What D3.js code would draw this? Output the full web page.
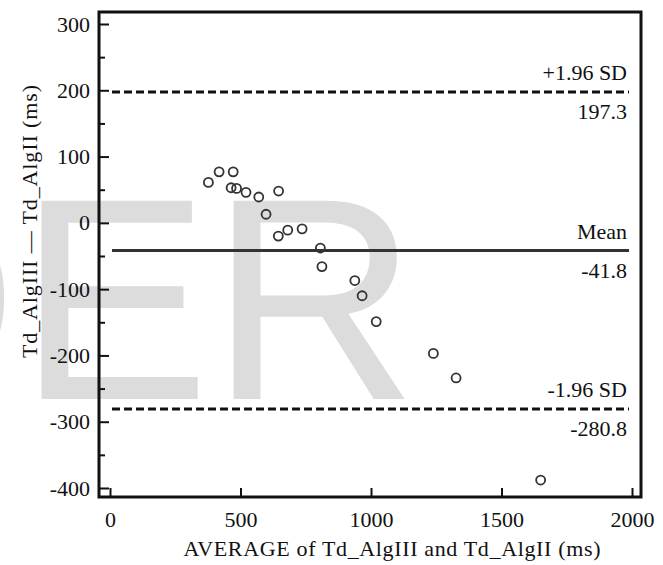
<!DOCTYPE html>
<html>
<head>
<meta charset="utf-8">
<script src="https://cdn.jsdelivr.net/npm/d3@7/dist/d3.min.js"></script>
<style>
  html, body { margin: 0; padding: 0; background: #fff; }
  svg { display: block; }
</style>
</head>
<body>
<svg id="chart" width="663" height="565"></svg>
<script>
// ---- Data ----
const averageValues = [377, 418, 472, 464, 485, 521, 570, 646, 598, 645, 681, 736, 806, 812, 938, 966, 1020, 1239, 1326, 1650];
const differenceValues = [61, 77, 77, 53, 52, 46, 39, 48, 13, -20, -11, -9, -38, -66, -87, -110, -149, -197, -234, -388];
const refLabels = ["+1.96 SD", "Mean", "-1.96 SD"];
const refValues = [197.3, -41.8, -280.8];
const xTickValues = [0, 500, 1000, 1500, 2000];
const yTickValues = [-400, -300, -200, -100, 0, 100, 200, 300];
const yMinorTickValues = [-350, -250, -150, -50, 50, 150, 250];
const xTitle = "AVERAGE of Td_AlgIII and Td_AlgII (ms)";
const yTitle = "Td_AlgIII \u2014 Td_AlgII (ms)";

// ---- Layout ----
const svg = d3.select("#chart");
const frame = { left: 99, right: 641, top: 12, bottom: 497 };
const serif = "'Liberation Serif', 'Times New Roman', serif";
const fs = 22;

const x = d3.scaleLinear().domain([0, 2000]).range([110, 632]);
const y = d3.scaleLinear().domain([300, -400]).range([24, 488]);

// watermark behind everything
svg.append("text")
  .attr("x", 418).attr("y", 399)
  .attr("text-anchor", "end")
  .attr("font-family", "'Liberation Sans', Arial, sans-serif")
  .attr("font-size", 288)
  .attr("fill", "#dcdcdc")
  .text("DER");

// Y axis (ticks pointing inward)
const yAxis = svg.append("g")
  .attr("transform", `translate(${frame.left},0)`)
  .call(d3.axisLeft(y).tickValues(yTickValues).tickSize(-10).tickPadding(9).tickFormat(d => String(d)));
yAxis.select(".domain").remove();
yAxis.selectAll("line").attr("stroke", "#111").attr("stroke-width", 2);
yAxis.selectAll("text").attr("font-family", serif).attr("font-size", fs).attr("fill", "#111");

const yMinor = svg.append("g")
  .attr("transform", `translate(${frame.left},0)`)
  .call(d3.axisLeft(y).tickValues(yMinorTickValues).tickSize(-6).tickFormat(""));
yMinor.select(".domain").remove();
yMinor.selectAll("line").attr("stroke", "#111").attr("stroke-width", 2);

// X axis
const xAxis = svg.append("g")
  .attr("transform", `translate(0,${frame.bottom})`)
  .call(d3.axisBottom(x).tickValues(xTickValues).tickSize(-9).tickPadding(14).tickFormat(d => String(d)));
xAxis.select(".domain").remove();
xAxis.selectAll("line").attr("stroke", "#111").attr("stroke-width", 2);
xAxis.selectAll("text").attr("font-family", serif).attr("font-size", fs).attr("fill", "#111");

// Frame
svg.append("rect")
  .attr("x", frame.left).attr("y", frame.top)
  .attr("width", frame.right - frame.left).attr("height", frame.bottom - frame.top)
  .attr("fill", "none").attr("stroke", "#111").attr("stroke-width", 3);

// Reference lines
const lineX0 = frame.left + 13, lineX1 = frame.right - 12, labelX = frame.right - 14;
refValues.forEach((v, i) => {
  const yy = y(v);
  svg.append("line")
    .attr("x1", lineX0).attr("x2", lineX1)
    .attr("y1", yy).attr("y2", yy)
    .attr("stroke", i === 1 ? "#333" : "#111")
    .attr("stroke-width", 3)
    .attr("stroke-dasharray", i === 1 ? null : "8,4");
  svg.append("text")
    .attr("x", labelX).attr("y", yy - 12)
    .attr("text-anchor", "end")
    .attr("font-family", serif).attr("font-size", fs).attr("fill", "#111")
    .text(refLabels[i]);
  svg.append("text")
    .attr("x", labelX).attr("y", yy + 27)
    .attr("text-anchor", "end")
    .attr("font-family", serif).attr("font-size", fs).attr("fill", "#111")
    .text(v.toFixed(1));
});

// Points
svg.append("g").selectAll("circle")
  .data(averageValues.map((a, i) => [a, differenceValues[i]]))
  .join("circle")
  .attr("cx", d => x(d[0]))
  .attr("cy", d => y(d[1]))
  .attr("r", 4.5)
  .attr("fill", "none")
  .attr("stroke", "#333")
  .attr("stroke-width", 1.8);

// Axis titles
svg.append("text")
  .attr("x", 392).attr("y", 556)
  .attr("text-anchor", "middle")
  .attr("font-family", serif).attr("font-size", fs).attr("fill", "#111")
  .attr("textLength", 417).attr("lengthAdjust", "spacing")
  .text(xTitle);

svg.append("text")
  .attr("transform", "translate(37,221.5) rotate(-90)")
  .attr("text-anchor", "middle")
  .attr("font-family", serif).attr("font-size", fs).attr("fill", "#111")
  .attr("textLength", 273).attr("lengthAdjust", "spacing")
  .text(yTitle);
</script>
</body>
</html>
